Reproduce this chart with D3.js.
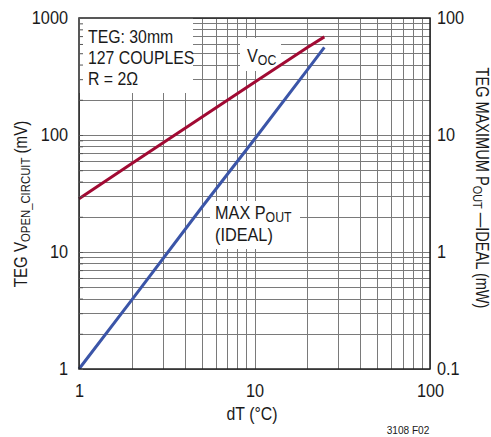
<!DOCTYPE html>
<html lang="en">
<head>
  <meta charset="utf-8">
  <title>TEG open circuit voltage and max output power</title>
  <style>
    body { margin: 0; background: #fff; }
    svg text {
      font-family: "Liberation Sans", Arial, sans-serif;
      fill: #1a1a1a;
    }
  </style>
</head>
<body>
<div id="chart"></div>
<script src="https://d3js.org/d3.v7.min.js"></script>
<script>
  // values
  const dT = [1, 2, 5, 10, 20, 25];
  const vocMv = [28.5, 57, 142, 283, 560, 690];
  const poutMw = [0.1, 0.39, 2.4, 9.2, 36, 56];

  const xTicks = [1, 10, 100];
  const leftTicks = [1, 10, 100, 1000];
  const rightTicks = [0.1, 1, 10, 100];

  const width = 491, height = 437;
  const plotLeft = 79, plotRight = 430, plotTop = 18, plotBottom = 369;
  const squeeze = 0.88; // reference uses a condensed face

  const svg = d3.select("#chart")
    .append("svg")
    .attr("width", width)
    .attr("height", height);

  const x = d3.scaleLog().domain([1, 100]).range([plotLeft, plotRight]);
  const yL = d3.scaleLog().domain([1, 1000]).range([plotBottom, plotTop]);
  const yR = d3.scaleLog().domain([0.1, 100]).range([plotBottom, plotTop]);

  // text placed at (px,py), optionally rotated, squeezed horizontally
  function label(px, py, size, anchor, rot, k) {
    return svg.append("text")
      .attr("transform", `translate(${px},${py}) rotate(${rot || 0}) scale(${k || squeeze},1)`)
      .attr("text-anchor", anchor || "start")
      .attr("font-size", size);
  }

  // grid
  const grid = svg.append("g")
    .attr("stroke", "#7a7a7a")
    .attr("stroke-width", 1);

  grid.selectAll(".gx")
    .data(x.ticks())
    .join("line")
    .attr("x1", d => Math.round(x(d)) + 0.5)
    .attr("x2", d => Math.round(x(d)) + 0.5)
    .attr("y1", plotTop)
    .attr("y2", plotBottom);

  grid.selectAll(".gy")
    .data(yL.ticks())
    .join("line")
    .attr("y1", d => Math.round(yL(d)) + 0.5)
    .attr("y2", d => Math.round(yL(d)) + 0.5)
    .attr("x1", plotLeft)
    .attr("x2", plotRight);

  // white boxes behind labels
  svg.append("rect")
    .attr("x", plotLeft).attr("y", plotTop)
    .attr("width", 114).attr("height", 75)
    .attr("fill", "#fff");
  svg.append("rect")
    .attr("x", 240).attr("y", 38)
    .attr("width", 41).attr("height", 33)
    .attr("fill", "#fff");
  svg.append("rect")
    .attr("x", 210).attr("y", 201)
    .attr("width", 90).attr("height", 48)
    .attr("fill", "#fff");

  // curves
  const vocLine = d3.line()
    .x((d, i) => x(dT[i]))
    .y(d => yL(d));
  const poutLine = d3.line()
    .x((d, i) => x(dT[i]))
    .y(d => yR(d));

  svg.append("path")
    .attr("d", vocLine(vocMv))
    .attr("fill", "none")
    .attr("stroke", "#a10a33")
    .attr("stroke-width", 3);

  svg.append("path")
    .attr("d", poutLine(poutMw))
    .attr("fill", "none")
    .attr("stroke", "#3b55a8")
    .attr("stroke-width", 3);

  // frame
  svg.append("rect")
    .attr("x", plotLeft).attr("y", plotTop)
    .attr("width", plotRight - plotLeft).attr("height", plotBottom - plotTop)
    .attr("fill", "none")
    .attr("stroke", "#222")
    .attr("stroke-width", 1.5);

  // small inward ticks on left edge
  const tickAxis = svg.append("g")
    .attr("transform", `translate(${plotLeft},0)`)
    .call(d3.axisLeft(yL).tickValues(yL.ticks()).tickSize(-4).tickFormat(""));
  tickAxis.select(".domain").remove();
  tickAxis.selectAll("line").attr("stroke", "#555");

  // tick labels
  const fs = 18.5;
  const leftAxis = svg.append("g")
    .attr("transform", `translate(${plotLeft - 11},0)`)
    .call(d3.axisLeft(yL).tickValues(leftTicks).tickSize(0).tickFormat(d3.format("~g")));
  const rightAxis = svg.append("g")
    .attr("transform", `translate(${plotRight + 7},0)`)
    .call(d3.axisRight(yR).tickValues(rightTicks).tickSize(0).tickFormat(d3.format("~g")));
  const bottomAxis = svg.append("g")
    .attr("transform", `translate(0,${plotBottom + 12})`)
    .call(d3.axisBottom(x).tickValues(xTicks).tickSize(0).tickFormat(d3.format("~g")));

  [leftAxis, rightAxis, bottomAxis].forEach(a => {
    a.select(".domain").remove();
    a.attr("font-family", null).attr("font-size", null);
    a.selectAll("text")
      .attr("font-size", fs)
      .attr("fill", "#1a1a1a")
      .attr("transform", `scale(${squeeze},1)`);
  });
  rightAxis.selectAll("text").attr("x", 0);
  leftAxis.selectAll("text").attr("x", 0);

  // axis titles
  label(252, 420, 18, "middle").text("dT (°C)");

  const lt = label(27, 204, 18, "middle", -90, 0.84);
  lt.append("tspan").text("TEG V");
  lt.append("tspan").attr("font-size", 13.5).attr("dy", 3).text("OPEN_CIRCUIT");
  lt.append("tspan").attr("dy", -3).text(" (mV)");

  const rt = label(476, 188, 18, "middle", 90, 0.81);
  rt.append("tspan").text("TEG MAXIMUM P");
  rt.append("tspan").attr("font-size", 13.5).attr("dy", 3).text("OUT");
  rt.append("tspan").attr("dy", -3).text(" \u2014IDEAL (mW)");

  // annotations
  const info = ["TEG: 30mm", "127 COUPLES", "R = 2\u03A9"];
  info.forEach((t, i) => label(88, 43 + i * 21, 18).text(t));

  const voc = label(247, 62, 18.5);
  voc.append("tspan").text("V");
  voc.append("tspan").attr("font-size", 14).attr("dy", 3).text("OC");

  const mp = label(215, 219, 18.5);
  mp.append("tspan").text("MAX P");
  mp.append("tspan").attr("font-size", 14).attr("dy", 3).text("OUT");
  label(215, 241, 18.5).text("(IDEAL)");

  label(408, 434, 11.5, "middle").text("3108 F02");
</script>
</body>
</html>
